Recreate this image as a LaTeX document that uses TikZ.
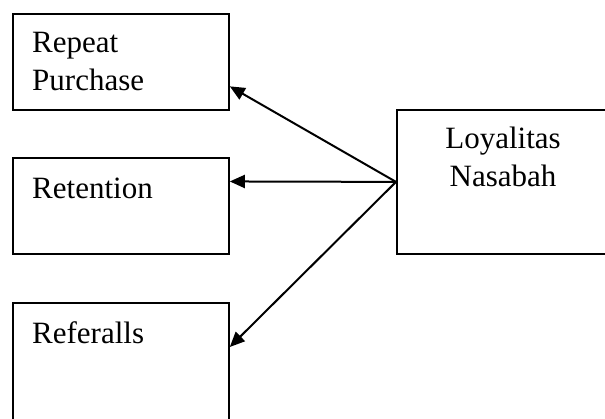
\documentclass[tikz,border=0pt]{standalone}
\usepackage{fontspec}
\setmainfont{Liberation Serif}
\usetikzlibrary{arrows.meta,calc}
\begin{document}
\begin{tikzpicture}[x=1pt,y=1pt,
  box/.style={draw,line width=1.8pt,rectangle,inner sep=0pt,anchor=north west},
  lbl/.style={anchor=base west,inner sep=0pt,font=\fontsize{31}{38}\selectfont,align=left},
  clbl/.style={anchor=base,inner sep=0pt,font=\fontsize{31}{38}\selectfont,align=center},
  conn/.style={line width=2pt,-{Triangle[length=15pt,width=13pt]}}]
\useasboundingbox (0,0) rectangle (605,418);
\clip (0,0) rectangle (605,418);
\node[box,minimum width=216pt,minimum height=96pt] (b1) at (12,405) {};
\node[box,minimum width=216pt,minimum height=96pt] (b2) at (12,261) {};
\node[box,minimum width=216pt,minimum height=130pt] (b3) at (12,116) {};
\node[box,minimum width=216pt,minimum height=144pt] (r) at (396,309) {};
\node[lbl] (t1) at ($(b1.north west)+(20,-78)$) {Repeat\\Purchase};
\node[lbl] (t2) at ($(b2.north west)+(20,-42)$) {Retention};
\node[lbl] (t3) at ($(b3.north west)+(20,-41)$) {Referalls};
\node[clbl] (t4) at ($(r.north west)+(107,-78)$) {Loyalitas\\Nasabah};
\coordinate (e1) at ($(b1.south east)!0.25!(b1.north east)$);
\coordinate (e2) at ($(b2.south east)!0.75!(b2.north east)$);
\coordinate (e3) at ($(b3.north east)+(0,-45)$);
\draw[conn] (r.west) -- (e1);
\draw[conn] (r.west) -- (e2);
\draw[conn] (r.west) -- (e3);
\end{tikzpicture}
\end{document}
